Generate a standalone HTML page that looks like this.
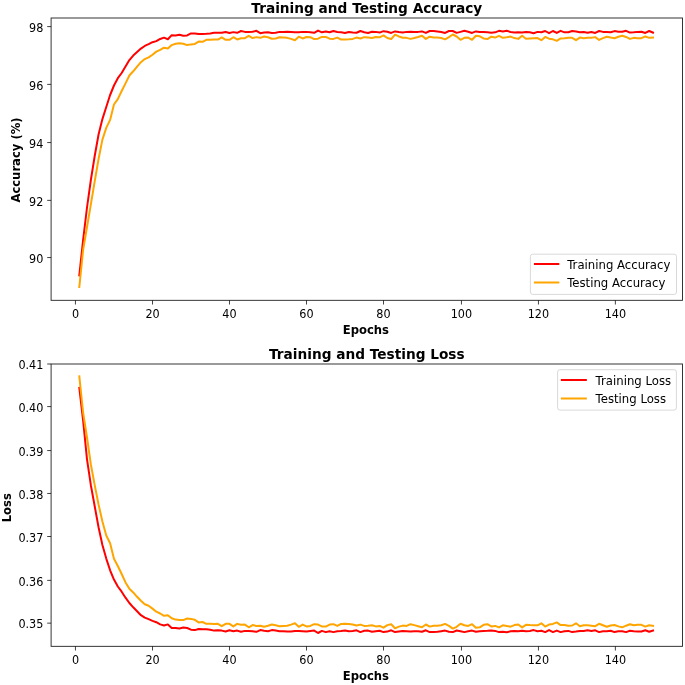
<!DOCTYPE html>
<html><head><meta charset="utf-8"><title>Training and Testing Accuracy and Loss</title><style>html,body{margin:0;padding:0;background:#fff;width:685px;height:685px;overflow:hidden}svg{display:block}</style></head><body>
<svg width="685" height="685" viewBox="0 0 685 685" font-family="'DejaVu Sans', 'Liberation Sans', sans-serif">
<rect x="0" y="0" width="685" height="685" fill="#ffffff"/>
<clipPath id="c18"><rect x="51.1" y="18.0" width="631.4" height="282.33"/></clipPath>
<g clip-path="url(#c18)">
<polyline points="79.31,275.40 83.16,239.50 87.01,207.50 90.86,180.00 94.71,156.00 98.56,134.50 102.41,119.10 106.26,107.00 110.11,95.00 113.96,85.50 117.81,78.20 121.66,73.00 125.51,66.50 129.37,60.10 133.22,55.59 137.07,52.09 140.92,48.58 144.77,45.96 148.62,44.20 152.47,42.19 156.32,41.14 160.17,38.95 164.02,37.63 167.87,39.21 171.72,35.18 175.57,35.45 179.42,34.83 183.27,35.80 187.12,35.46 190.97,33.44 194.82,33.44 198.67,34.06 202.52,33.88 206.37,33.71 210.22,33.44 214.07,32.83 217.92,32.83 221.77,32.83 225.63,31.96 229.48,33.00 233.33,32.13 237.18,32.80 241.03,31.00 244.88,31.88 248.73,32.06 252.58,31.71 256.43,30.83 260.28,33.20 264.13,32.58 267.98,32.32 271.83,32.93 275.68,32.76 279.53,31.88 283.38,31.88 287.23,31.71 291.08,31.97 294.93,32.32 298.78,32.32 302.63,31.88 306.48,31.88 310.33,32.32 314.18,32.76 318.03,30.57 321.89,32.32 325.74,31.44 329.59,32.32 333.44,31.00 337.29,32.06 341.14,32.32 344.99,33.05 348.84,32.00 352.69,32.58 356.54,32.76 360.39,31.00 364.24,32.32 368.09,32.93 371.94,31.71 375.79,31.88 379.64,32.58 383.49,31.18 387.34,31.71 391.19,32.93 395.04,31.44 398.89,32.06 402.74,32.45 406.59,31.88 410.44,31.71 414.29,32.06 418.15,31.88 422.00,31.44 425.85,32.93 429.70,31.00 433.55,31.00 437.40,31.44 441.25,32.06 445.10,32.93 448.95,31.00 452.80,31.00 456.65,32.85 460.50,31.88 464.35,30.83 468.20,31.71 472.05,32.93 475.90,31.44 479.75,32.06 483.60,32.06 487.45,32.32 491.30,32.76 495.15,32.32 499.00,30.83 502.85,31.44 506.70,30.83 510.55,31.97 514.41,32.45 518.26,32.32 522.11,32.58 525.96,32.06 529.81,32.32 533.66,33.20 537.51,31.88 541.36,32.32 545.21,31.00 549.06,33.20 552.91,31.00 556.76,32.93 560.61,30.83 564.46,32.32 568.31,32.20 572.16,31.00 576.01,31.44 579.86,32.32 583.71,32.06 587.56,32.76 591.41,32.06 595.26,32.93 599.11,31.00 602.96,31.88 606.81,32.06 610.67,32.32 614.52,31.10 618.37,31.80 622.22,31.80 626.07,30.83 629.92,32.58 633.77,32.32 637.62,31.88 641.47,31.71 645.32,32.93 649.17,31.00 653.02,32.58" fill="none" stroke="#ff0000" stroke-width="2.0" stroke-linejoin="round" stroke-linecap="square"/>
<polyline points="79.31,287.00 83.16,249.50 87.01,227.10 90.86,204.30 94.71,181.40 98.56,159.00 102.41,139.60 106.26,127.90 110.11,119.90 113.96,104.50 117.81,99.10 121.66,91.00 125.51,83.40 129.37,75.50 133.22,71.30 137.07,66.60 140.92,62.20 144.77,59.09 148.62,57.34 152.47,54.71 156.32,51.65 160.17,49.90 164.02,47.71 167.87,48.58 171.72,45.08 175.57,43.77 179.42,43.33 183.27,43.80 187.12,45.09 190.97,44.39 194.82,43.96 198.67,41.59 202.52,41.77 206.37,39.84 210.22,39.84 214.07,39.58 217.92,39.58 221.77,37.39 225.63,39.84 229.48,39.84 233.33,37.21 237.18,39.45 241.03,38.19 244.88,38.19 248.73,35.82 252.58,38.01 256.43,37.14 260.28,37.84 264.13,36.44 267.98,37.31 271.83,38.71 275.68,38.45 279.53,37.31 283.38,37.58 287.23,37.84 291.08,38.89 294.93,40.20 298.78,36.70 302.63,38.45 306.48,36.96 310.33,37.14 314.18,39.07 318.03,38.71 321.89,36.96 325.74,36.96 329.59,38.71 333.44,38.89 337.29,37.58 341.14,39.59 344.99,39.59 348.84,39.30 352.69,38.89 356.54,37.58 360.39,38.45 364.24,37.14 368.09,37.58 371.94,38.01 375.79,36.96 379.64,37.31 383.49,35.39 387.34,38.01 391.19,39.07 395.04,34.69 398.89,36.44 402.74,37.70 406.59,37.84 410.44,38.89 414.29,38.01 418.15,36.96 422.00,35.82 425.85,38.89 429.70,36.70 433.55,37.58 437.40,37.58 441.25,38.01 445.10,39.33 448.95,37.14 452.80,34.51 456.65,36.50 460.50,39.77 464.35,37.84 468.20,37.58 472.05,39.77 475.90,35.82 479.75,36.26 483.60,38.45 487.45,39.07 491.30,36.70 495.15,37.58 499.00,35.82 502.85,37.84 506.70,37.31 510.55,36.57 514.41,38.10 518.26,38.89 522.11,35.82 525.96,38.71 529.81,38.45 533.66,38.19 537.51,38.01 541.36,40.20 545.21,36.96 549.06,38.71 552.91,39.33 556.76,40.82 560.61,38.45 564.46,38.19 568.31,37.80 572.16,37.84 576.01,40.20 579.86,37.58 583.71,38.19 587.56,37.84 591.41,37.84 595.26,37.14 599.11,39.94 602.96,38.19 606.81,36.70 610.67,37.58 614.52,38.20 618.37,36.70 622.22,35.70 626.07,36.96 629.92,38.89 633.77,37.84 637.62,38.19 641.47,38.19 645.32,36.44 649.17,37.84 653.02,37.58" fill="none" stroke="#ffa500" stroke-width="2.0" stroke-linejoin="round" stroke-linecap="square"/>
</g>
<rect x="51.1" y="18.0" width="631.4" height="282.33" fill="none" stroke="#000" stroke-opacity="0.85" stroke-width="0.93" stroke-linejoin="miter"/>
<line x1="75.45" y1="300.33" x2="75.45" y2="304.53" stroke="#000" stroke-opacity="0.8" stroke-width="0.93"/>
<text transform="translate(75.45,317.6) scale(0.97,1)" font-size="11.6" text-anchor="middle" fill="#000">0</text>
<line x1="152.53" y1="300.33" x2="152.53" y2="304.53" stroke="#000" stroke-opacity="0.8" stroke-width="0.93"/>
<text transform="translate(152.53,317.6) scale(0.97,1)" font-size="11.6" text-anchor="middle" fill="#000">20</text>
<line x1="229.49" y1="300.33" x2="229.49" y2="304.53" stroke="#000" stroke-opacity="0.8" stroke-width="0.93"/>
<text transform="translate(229.49,317.6) scale(0.97,1)" font-size="11.6" text-anchor="middle" fill="#000">40</text>
<line x1="306.49" y1="300.33" x2="306.49" y2="304.53" stroke="#000" stroke-opacity="0.8" stroke-width="0.93"/>
<text transform="translate(306.49,317.6) scale(0.97,1)" font-size="11.6" text-anchor="middle" fill="#000">60</text>
<line x1="383.49" y1="300.33" x2="383.49" y2="304.53" stroke="#000" stroke-opacity="0.8" stroke-width="0.93"/>
<text transform="translate(383.49,317.6) scale(0.97,1)" font-size="11.6" text-anchor="middle" fill="#000">80</text>
<line x1="461.45" y1="300.33" x2="461.45" y2="304.53" stroke="#000" stroke-opacity="0.8" stroke-width="0.93"/>
<text transform="translate(461.45,317.6) scale(0.97,1)" font-size="11.6" text-anchor="middle" fill="#000">100</text>
<line x1="538.45" y1="300.33" x2="538.45" y2="304.53" stroke="#000" stroke-opacity="0.8" stroke-width="0.93"/>
<text transform="translate(538.45,317.6) scale(0.97,1)" font-size="11.6" text-anchor="middle" fill="#000">120</text>
<line x1="615.36" y1="300.33" x2="615.36" y2="304.53" stroke="#000" stroke-opacity="0.8" stroke-width="0.93"/>
<text transform="translate(615.36,317.6) scale(0.97,1)" font-size="11.6" text-anchor="middle" fill="#000">140</text>
<line x1="47.20" y1="257.56" x2="51.1" y2="257.56" stroke="#000" stroke-opacity="0.8" stroke-width="0.93"/>
<text transform="translate(43.40,262.76) scale(0.97,1)" font-size="11.6" text-anchor="end" fill="#000">90</text>
<line x1="47.20" y1="200.36" x2="51.1" y2="200.36" stroke="#000" stroke-opacity="0.8" stroke-width="0.93"/>
<text transform="translate(43.40,205.56) scale(0.97,1)" font-size="11.6" text-anchor="end" fill="#000">92</text>
<line x1="47.20" y1="142.56" x2="51.1" y2="142.56" stroke="#000" stroke-opacity="0.8" stroke-width="0.93"/>
<text transform="translate(43.40,147.76) scale(0.97,1)" font-size="11.6" text-anchor="end" fill="#000">94</text>
<line x1="47.20" y1="84.38" x2="51.1" y2="84.38" stroke="#000" stroke-opacity="0.8" stroke-width="0.93"/>
<text transform="translate(43.40,89.58) scale(0.97,1)" font-size="11.6" text-anchor="end" fill="#000">96</text>
<line x1="47.20" y1="26.60" x2="51.1" y2="26.60" stroke="#000" stroke-opacity="0.8" stroke-width="0.93"/>
<text transform="translate(43.40,31.80) scale(0.97,1)" font-size="11.6" text-anchor="end" fill="#000">98</text>
<text x="366.80" y="12.95" font-size="13.7" font-weight="bold" text-anchor="middle" fill="#000">Training and Testing Accuracy</text>
<text x="365.90" y="333.7" font-size="11.6" font-weight="bold" text-anchor="middle" fill="#000">Epochs</text>
<text transform="translate(20.4,160.0) rotate(-90)" x="0" y="0" font-size="11.6" font-weight="bold" text-anchor="middle" fill="#000">Accuracy (%)</text>
<rect x="530.4" y="254.2" width="146.10" height="40.20" rx="2.3" ry="2.3" fill="#ffffff" fill-opacity="0.8" stroke="#cccccc" stroke-opacity="0.8" stroke-width="0.93"/>
<line x1="534.9" y1="264.0" x2="558.3" y2="264.0" stroke="#ff0000" stroke-width="2.0" stroke-linecap="square"/>
<text x="567.2" y="269.0" font-size="11.7" fill="#000">Training Accuracy</text>
<line x1="534.9" y1="282.5" x2="558.3" y2="282.5" stroke="#ffa500" stroke-width="2.0" stroke-linecap="square"/>
<text x="567.2" y="287.2" font-size="11.7" fill="#000">Testing Accuracy</text>
<clipPath id="c364"><rect x="51.1" y="364.0" width="631.4" height="282.34000000000003"/></clipPath>
<g clip-path="url(#c364)">
<polyline points="79.31,387.90 83.16,421.00 87.01,459.30 90.86,485.20 94.71,506.30 98.56,527.30 102.41,545.00 106.26,558.60 110.11,570.30 113.96,579.60 117.81,586.50 121.66,591.70 125.51,597.70 129.37,603.00 133.22,607.30 137.07,611.30 140.92,615.20 144.77,617.60 148.62,619.20 152.47,620.90 156.32,622.20 160.17,624.40 164.02,625.50 167.87,624.40 171.72,627.90 175.57,627.90 179.42,628.40 183.27,627.60 187.12,628.00 190.97,629.70 194.82,630.10 198.67,629.00 202.52,629.20 206.37,629.20 210.22,629.70 214.07,630.60 217.92,630.30 221.77,630.60 225.63,631.50 229.48,630.30 233.33,631.20 237.18,630.60 241.03,631.80 244.88,630.90 248.73,630.90 252.58,631.20 256.43,631.80 260.28,630.10 264.13,630.80 267.98,631.20 271.83,630.10 275.68,630.60 279.53,631.20 283.38,631.20 287.23,631.50 291.08,631.40 294.93,630.90 298.78,630.90 302.63,631.20 306.48,631.50 310.33,630.90 314.18,630.60 318.03,633.00 321.89,630.90 325.74,632.10 329.59,631.20 333.44,632.10 337.29,631.20 341.14,630.90 344.99,630.40 348.84,631.20 352.69,630.90 356.54,630.30 360.39,632.10 364.24,630.80 368.09,630.60 371.94,631.80 375.79,631.20 379.64,630.80 383.49,632.10 387.34,631.60 391.19,630.30 395.04,632.10 398.89,631.50 402.74,630.90 406.59,631.20 410.44,631.50 414.29,631.20 418.15,631.20 422.00,631.80 425.85,630.30 429.70,632.10 433.55,632.10 437.40,631.80 441.25,631.20 445.10,630.60 448.95,631.80 452.80,632.10 456.65,630.50 460.50,631.20 464.35,632.10 468.20,631.20 472.05,630.60 475.90,631.80 479.75,631.20 483.60,630.90 487.45,630.80 491.30,630.60 495.15,630.90 499.00,632.10 502.85,631.80 506.70,632.30 510.55,631.30 514.41,630.90 518.26,631.20 522.11,630.80 525.96,631.20 529.81,630.90 533.66,630.10 537.51,631.20 541.36,630.80 545.21,632.10 549.06,630.10 552.91,632.10 556.76,630.60 560.61,632.10 564.46,631.20 568.31,630.90 572.16,632.10 576.01,631.60 579.86,630.90 583.71,630.90 587.56,630.30 591.41,630.90 595.26,630.30 599.11,632.10 602.96,631.20 606.81,631.20 610.67,630.80 614.52,632.10 618.37,631.30 622.22,631.20 626.07,632.10 629.92,630.80 633.77,631.20 637.62,631.50 641.47,631.50 645.32,630.30 649.17,631.80 653.02,630.60" fill="none" stroke="#ff0000" stroke-width="2.0" stroke-linejoin="round" stroke-linecap="square"/>
<polyline points="79.31,376.40 83.16,413.00 87.01,437.50 90.86,464.40 94.71,485.10 98.56,504.50 102.41,521.50 106.26,535.50 110.11,543.20 113.96,558.70 117.81,566.00 121.66,574.00 125.51,582.40 129.37,588.80 133.22,592.40 137.07,596.80 140.92,600.70 144.77,604.30 148.62,605.80 152.47,608.60 156.32,611.70 160.17,613.50 164.02,615.80 167.87,615.20 171.72,618.30 175.57,619.60 179.42,620.00 183.27,620.10 187.12,618.50 190.97,618.90 194.82,619.80 198.67,622.40 202.52,622.00 206.37,623.80 210.22,623.80 214.07,623.90 217.92,623.80 221.77,626.20 225.63,623.80 229.48,623.80 233.33,626.40 237.18,623.85 241.03,624.80 244.88,624.60 248.73,627.30 252.58,625.10 256.43,625.90 260.28,625.70 264.13,626.80 267.98,625.70 271.83,624.50 275.68,625.30 279.53,626.20 283.38,625.90 287.23,625.70 291.08,624.60 294.93,623.30 298.78,626.80 302.63,624.60 306.48,626.40 310.33,625.90 314.18,624.20 318.03,624.60 321.89,626.40 325.74,626.60 329.59,624.60 333.44,624.20 337.29,625.90 341.14,623.90 344.99,623.85 348.84,624.00 352.69,624.50 356.54,625.50 360.39,624.60 364.24,625.90 368.09,625.70 371.94,625.30 375.79,626.40 379.64,625.90 383.49,627.70 387.34,625.10 391.19,624.20 395.04,628.30 398.89,626.60 402.74,625.60 406.59,625.90 410.44,624.20 414.29,625.10 418.15,626.20 422.00,627.30 425.85,624.50 429.70,626.60 433.55,625.70 437.40,625.70 441.25,625.30 445.10,623.90 448.95,625.90 452.80,628.60 456.65,626.80 460.50,623.80 464.35,625.30 468.20,625.90 472.05,624.20 475.90,627.70 479.75,627.30 483.60,624.80 487.45,624.20 491.30,626.40 495.15,625.90 499.00,627.40 502.85,625.30 506.70,625.90 510.55,626.70 514.41,625.10 518.26,624.50 522.11,627.40 525.96,624.80 529.81,625.10 533.66,625.30 537.51,625.30 541.36,623.30 545.21,626.60 549.06,624.60 552.91,623.90 556.76,622.40 560.61,625.10 564.46,625.00 568.31,625.70 572.16,625.50 576.01,623.30 579.86,626.20 583.71,625.30 587.56,625.30 591.41,625.70 595.26,626.20 599.11,623.80 602.96,625.30 606.81,626.80 610.67,625.50 614.52,625.00 618.37,626.40 622.22,627.30 626.07,625.70 629.92,624.20 633.77,625.30 637.62,624.80 641.47,624.80 645.32,626.60 649.17,625.30 653.02,625.90" fill="none" stroke="#ffa500" stroke-width="2.0" stroke-linejoin="round" stroke-linecap="square"/>
</g>
<rect x="51.1" y="364.0" width="631.4" height="282.34000000000003" fill="none" stroke="#000" stroke-opacity="0.85" stroke-width="0.93" stroke-linejoin="miter"/>
<line x1="75.45" y1="646.34" x2="75.45" y2="650.54" stroke="#000" stroke-opacity="0.8" stroke-width="0.93"/>
<text transform="translate(75.45,663.6) scale(0.97,1)" font-size="11.6" text-anchor="middle" fill="#000">0</text>
<line x1="152.53" y1="646.34" x2="152.53" y2="650.54" stroke="#000" stroke-opacity="0.8" stroke-width="0.93"/>
<text transform="translate(152.53,663.6) scale(0.97,1)" font-size="11.6" text-anchor="middle" fill="#000">20</text>
<line x1="229.49" y1="646.34" x2="229.49" y2="650.54" stroke="#000" stroke-opacity="0.8" stroke-width="0.93"/>
<text transform="translate(229.49,663.6) scale(0.97,1)" font-size="11.6" text-anchor="middle" fill="#000">40</text>
<line x1="306.49" y1="646.34" x2="306.49" y2="650.54" stroke="#000" stroke-opacity="0.8" stroke-width="0.93"/>
<text transform="translate(306.49,663.6) scale(0.97,1)" font-size="11.6" text-anchor="middle" fill="#000">60</text>
<line x1="383.49" y1="646.34" x2="383.49" y2="650.54" stroke="#000" stroke-opacity="0.8" stroke-width="0.93"/>
<text transform="translate(383.49,663.6) scale(0.97,1)" font-size="11.6" text-anchor="middle" fill="#000">80</text>
<line x1="461.45" y1="646.34" x2="461.45" y2="650.54" stroke="#000" stroke-opacity="0.8" stroke-width="0.93"/>
<text transform="translate(461.45,663.6) scale(0.97,1)" font-size="11.6" text-anchor="middle" fill="#000">100</text>
<line x1="538.45" y1="646.34" x2="538.45" y2="650.54" stroke="#000" stroke-opacity="0.8" stroke-width="0.93"/>
<text transform="translate(538.45,663.6) scale(0.97,1)" font-size="11.6" text-anchor="middle" fill="#000">120</text>
<line x1="615.36" y1="646.34" x2="615.36" y2="650.54" stroke="#000" stroke-opacity="0.8" stroke-width="0.93"/>
<text transform="translate(615.36,663.6) scale(0.97,1)" font-size="11.6" text-anchor="middle" fill="#000">140</text>
<line x1="47.20" y1="623.15" x2="51.1" y2="623.15" stroke="#000" stroke-opacity="0.8" stroke-width="0.93"/>
<text transform="translate(43.40,628.35) scale(0.97,1)" font-size="11.6" text-anchor="end" fill="#000">0.35</text>
<line x1="47.20" y1="580.36" x2="51.1" y2="580.36" stroke="#000" stroke-opacity="0.8" stroke-width="0.93"/>
<text transform="translate(43.40,585.56) scale(0.97,1)" font-size="11.6" text-anchor="end" fill="#000">0.36</text>
<line x1="47.20" y1="536.50" x2="51.1" y2="536.50" stroke="#000" stroke-opacity="0.8" stroke-width="0.93"/>
<text transform="translate(43.40,541.70) scale(0.97,1)" font-size="11.6" text-anchor="end" fill="#000">0.37</text>
<line x1="47.20" y1="493.46" x2="51.1" y2="493.46" stroke="#000" stroke-opacity="0.8" stroke-width="0.93"/>
<text transform="translate(43.40,498.66) scale(0.97,1)" font-size="11.6" text-anchor="end" fill="#000">0.38</text>
<line x1="47.20" y1="450.56" x2="51.1" y2="450.56" stroke="#000" stroke-opacity="0.8" stroke-width="0.93"/>
<text transform="translate(43.40,455.76) scale(0.97,1)" font-size="11.6" text-anchor="end" fill="#000">0.39</text>
<line x1="47.20" y1="406.58" x2="51.1" y2="406.58" stroke="#000" stroke-opacity="0.8" stroke-width="0.93"/>
<text transform="translate(43.40,411.78) scale(0.97,1)" font-size="11.6" text-anchor="end" fill="#000">0.40</text>
<line x1="47.20" y1="364.00" x2="51.1" y2="364.00" stroke="#000" stroke-opacity="0.8" stroke-width="0.93"/>
<text transform="translate(43.40,369.20) scale(0.97,1)" font-size="11.6" text-anchor="end" fill="#000">0.41</text>
<text x="366.80" y="358.95" font-size="13.7" font-weight="bold" text-anchor="middle" fill="#000">Training and Testing Loss</text>
<text x="365.90" y="679.7" font-size="11.6" font-weight="bold" text-anchor="middle" fill="#000">Epochs</text>
<text transform="translate(10.95,507.7) rotate(-90)" x="0" y="0" font-size="11.6" font-weight="bold" text-anchor="middle" fill="#000">Loss</text>
<rect x="557.6" y="369.7" width="118.80" height="40.40" rx="2.3" ry="2.3" fill="#ffffff" fill-opacity="0.8" stroke="#cccccc" stroke-opacity="0.8" stroke-width="0.93"/>
<line x1="561.85" y1="380.0" x2="585.85" y2="380.0" stroke="#ff0000" stroke-width="2.0" stroke-linecap="square"/>
<text x="595.6" y="385.0" font-size="11.7" fill="#000">Training Loss</text>
<line x1="561.85" y1="398.5" x2="585.85" y2="398.5" stroke="#ffa500" stroke-width="2.0" stroke-linecap="square"/>
<text x="595.6" y="403.0" font-size="11.7" fill="#000">Testing Loss</text>
</svg>
</body></html>
